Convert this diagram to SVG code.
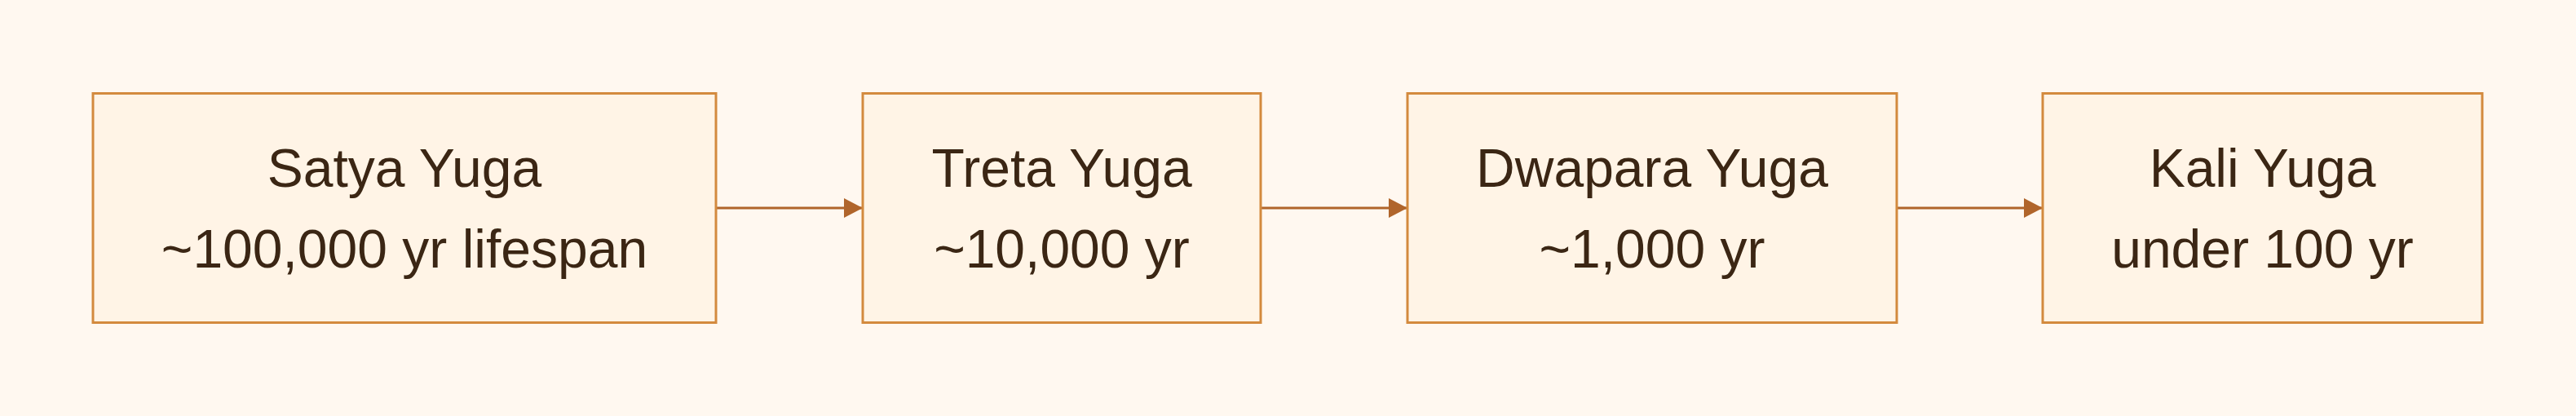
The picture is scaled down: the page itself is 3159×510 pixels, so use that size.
<svg xmlns="http://www.w3.org/2000/svg" width="3159" height="510" viewBox="0 0 3159 510">
<style>
.box{fill:#FFF4E6;stroke:#D38A3E;stroke-width:3}
.lbl{font-family:"Liberation Sans",Arial,sans-serif;font-size:66px;fill:#3B2614;text-anchor:middle}
.edge{stroke:#B0652B;stroke-width:3.2;fill:none}
</style>
<defs>
<marker id="arr" markerUnits="userSpaceOnUse" markerWidth="24" markerHeight="24" refX="23" refY="12" orient="auto">
<path d="M0,0 L23,12 L0,24 Z" fill="#B0652B"/>
</marker>
</defs>
<rect width="3159" height="510" fill="#FFF8F0"/>
<g id="connectors">
<line class="edge" x1="878" y1="255" x2="1058" y2="255" marker-end="url(#arr)"/>
<line class="edge" x1="1546" y1="255" x2="1726" y2="255" marker-end="url(#arr)"/>
<line class="edge" x1="2326" y1="255" x2="2505" y2="255" marker-end="url(#arr)"/>
</g>
<g id="satya">
<rect class="box" x="114" y="114.5" width="764" height="281"/>
<text class="lbl" x="496" y="229">Satya Yuga</text>
<text class="lbl" x="496" y="328">~100,000 yr lifespan</text>
</g>
<g id="treta">
<rect class="box" x="1058" y="114.5" width="488" height="281"/>
<text class="lbl" x="1302" y="229">Treta Yuga</text>
<text class="lbl" x="1302" y="328">~10,000 yr</text>
</g>
<g id="dwapara">
<rect class="box" x="1726" y="114.5" width="600" height="281"/>
<text class="lbl" x="2026" y="229">Dwapara Yuga</text>
<text class="lbl" x="2026" y="328">~1,000 yr</text>
</g>
<g id="kali">
<rect class="box" x="2505" y="114.5" width="539" height="281"/>
<text class="lbl" x="2774.5" y="229">Kali Yuga</text>
<text class="lbl" x="2774.5" y="328">under 100 yr</text>
</g>
</svg>
